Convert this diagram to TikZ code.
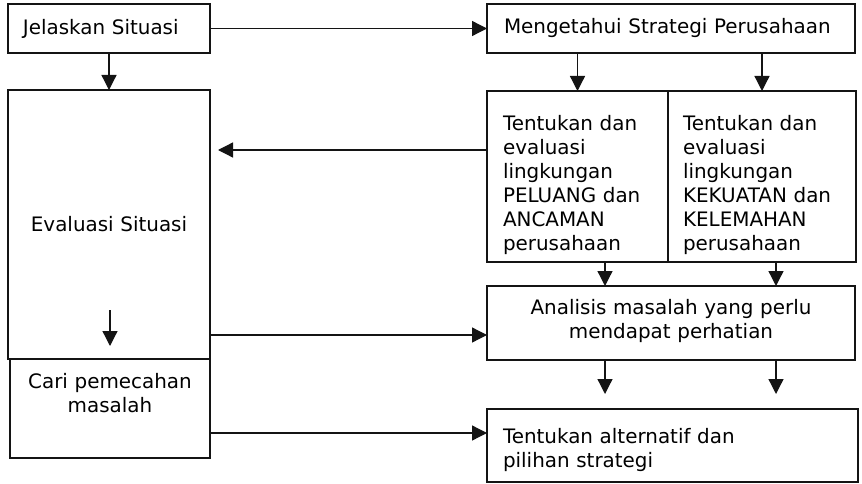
\documentclass[tikz,border=0pt]{standalone}
\usepackage{fontspec}
\setmainfont{DejaVu Sans}
\usepackage{tikz}
\usetikzlibrary{positioning,arrows.meta,calc}
\definecolor{cline}{RGB}{20,20,20}

\begin{document}
\begin{tikzpicture}[
  font=\fontsize{17pt}{20.5pt}\selectfont,
  box/.style={draw=cline,line width=1.3pt,outer sep=0pt,inner ysep=0pt,align=left},
  flow/.style={-{Triangle[length=4.5mm,width=4.5mm]},cline,line width=1.1pt},
]
\useasboundingbox (0,0) rectangle (258.6mm,-145.2mm);
% top row
\node[box,anchor=north west,inner xsep=4.5mm,text width=51.6mm,minimum height=14.7mm] (jelas) at (2.4mm,-1.2mm) {Jelaskan Situasi};
\node[box,right=83.1mm of jelas,inner xsep=5.1mm,text width=100.2mm,minimum height=14.7mm] (strat) {Mengetahui Strategi Perusahaan};

% left column
\node[box,below=11.1mm of jelas,align=center,inner xsep=0pt,text width=60.6mm,minimum height=80.7mm] (evals) {Evaluasi Situasi};
\node[box,below=0mm of evals.south east,anchor=north east,align=center,inner xsep=0pt,text width=60mm,text height=8.7mm,text depth=21mm] (cari) {Cari pemecahan\\masalah};

% right column
\node[box,below=11.4mm of strat.south west,anchor=north west,inner xsep=4.8mm,text width=44.7mm,text height=11.7mm,text depth=39.6mm] (peluang) {Tentukan dan\\evaluasi\\lingkungan\\PELUANG dan\\ANCAMAN\\perusahaan};
\node[box,right=0mm of peluang,inner xsep=4.5mm,text width=47.4mm,text height=11.7mm,text depth=39.6mm] (kekuatan) {Tentukan dan\\evaluasi\\lingkungan\\KEKUATAN dan\\KELEMAHAN\\perusahaan};
\node[box,below=7.2mm of peluang.south west,anchor=north west,align=center,inner xsep=0pt,text width=110.4mm,text height=8.4mm,text depth=13.8mm] (analisis) {Analisis masalah yang perlu\\mendapat perhatian};
\node[box,below=14.7mm of analisis.south west,anchor=north west,inner xsep=4.8mm,text width=101.7mm,text height=10.2mm,text depth=11.7mm] (alt) {Tentukan alternatif dan\\pilihan strategi};

% connectors
\draw[flow] (jelas) -- (strat);
\draw[flow] (jelas) -- (evals);
\draw[flow] (strat.south -| peluang.north) -- (peluang.north);
\draw[flow] (strat.south -| kekuatan.north) -- (kekuatan.north);
\coordinate (back) at ([yshift=-17.7mm]peluang.north west);
\draw[flow,shorten >=2.4mm] (back) -- (back -| evals.east);
\draw[flow] ([yshift=14.7mm]cari.north) -- ([yshift=3.9mm]cari.north);

\coordinate (c1) at ([xshift=35.4mm]analisis.north west);
\coordinate (c2) at ([xshift=86.7mm]analisis.north west);
\draw[flow] (c1 |- peluang.south) -- (c1);
\draw[flow] (c2 |- kekuatan.south) -- (c2);
\draw[flow,shorten >=4.5mm] (c1 |- analisis.south) -- (c1 |- alt.north);
\draw[flow,shorten >=4.5mm] (c2 |- analisis.south) -- (c2 |- alt.north);

\coordinate (a1) at ([yshift=-3.6mm]analisis.west);
\draw[flow] (a1 -| evals.east) -- (a1);
\coordinate (a2) at ([yshift=3.75mm]alt.west);
\draw[flow] (a2 -| cari.east) -- (a2);
\end{tikzpicture}
\end{document}
